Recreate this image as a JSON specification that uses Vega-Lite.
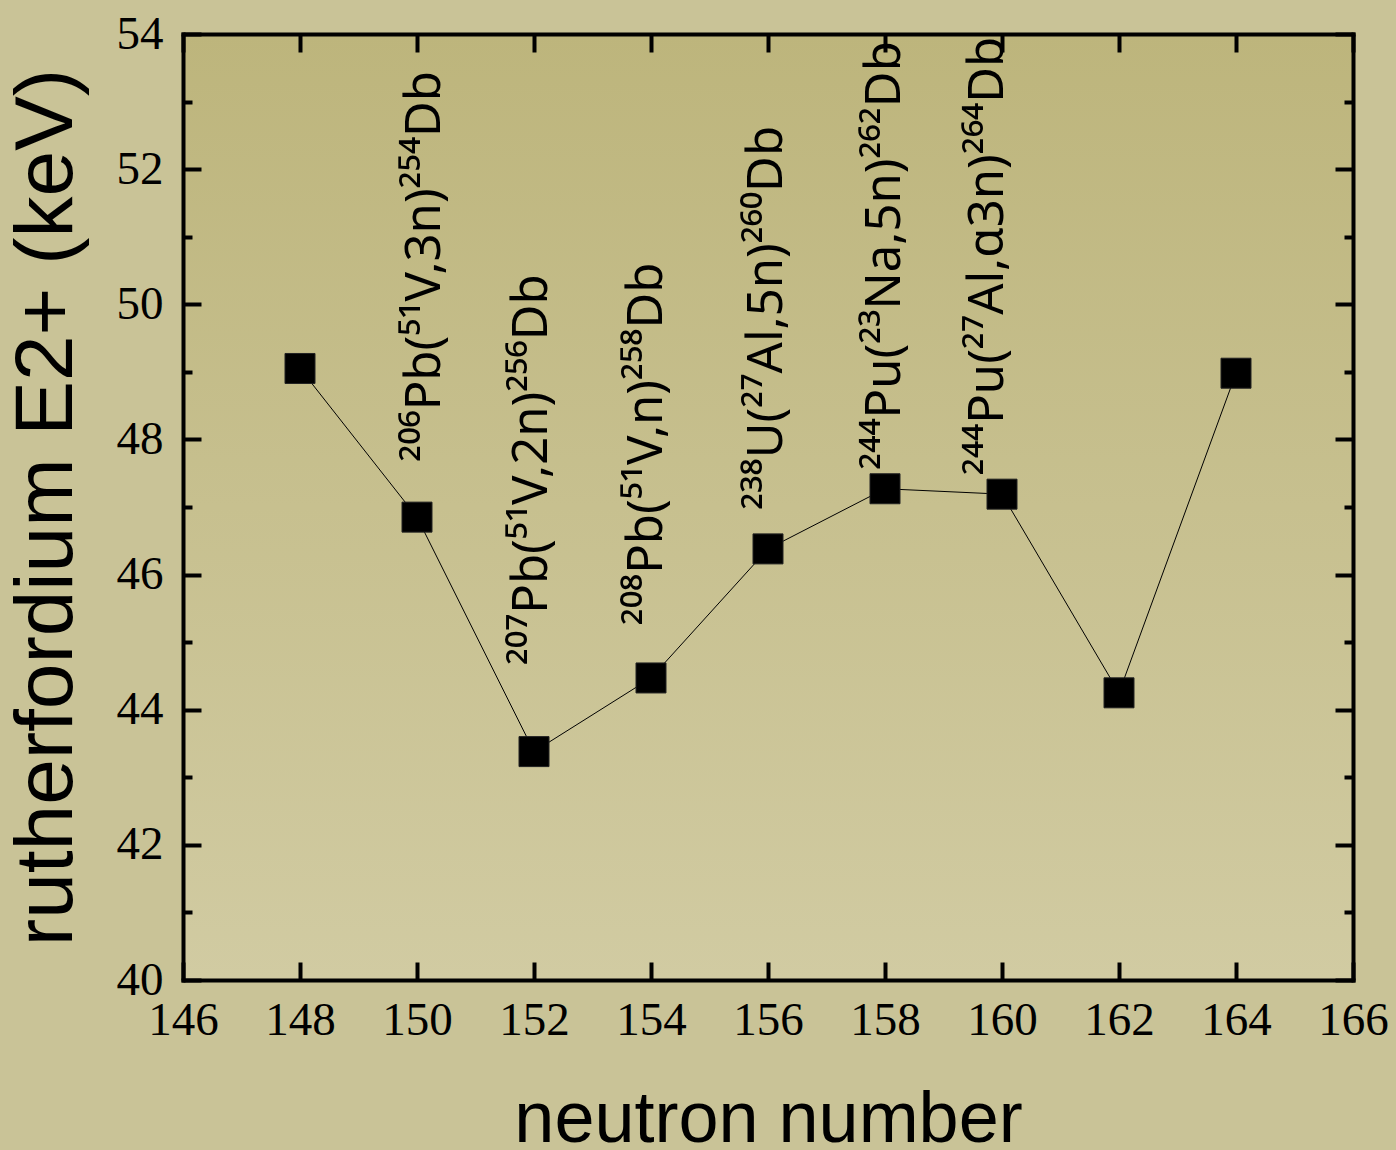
{
  "$schema": "https://vega.github.io/schema/vega-lite/v6.json",
  "width": 1170,
  "height": 946,
  "autosize": {"type": "none"},
  "padding": {"left": 183, "top": 34, "right": 43, "bottom": 170},
  "background": "#c9c397",
  "config": {
    "view": {
      "stroke": null,
      "fill": {
        "gradient": "linear",
        "x1": 0, "y1": 0, "x2": 0, "y2": 1,
        "stops": [
          {"offset": 0, "color": "#bdb57c"},
          {"offset": 1, "color": "#d1cba2"}
        ]
      }
    },
    "axis": {
      "domainColor": "black",
      "domainWidth": 4,
      "domainCap": "square",
      "tickColor": "black",
      "tickWidth": 4,
      "tickSize": -18,
      "grid": false,
      "format": "d",
      "labelOverlap": false,
      "labelFlush": false,
      "labelFont": "Liberation Serif",
      "labelFontSize": 47,
      "labelColor": "black",
      "titleFont": "Liberation Sans",
      "titleFontWeight": "normal",
      "titleColor": "black"
    }
  },
  "datasets": {
    "points": [
      {"N": 148, "E": 49.05},
      {"N": 150, "E": 46.85},
      {"N": 152, "E": 43.38},
      {"N": 154, "E": 44.47},
      {"N": 156, "E": 46.38},
      {"N": 158, "E": 47.27},
      {"N": 160, "E": 47.19},
      {"N": 162, "E": 44.25},
      {"N": 164, "E": 48.98}
    ],
    "labels": [
      {"lx": 150.39, "ly": 47.67, "label": "²⁰⁶Pb(⁵¹V,3n)²⁵⁴Db"},
      {"lx": 152.22, "ly": 44.66, "label": "²⁰⁷Pb(⁵¹V,2n)²⁵⁶Db"},
      {"lx": 154.19, "ly": 45.25, "label": "²⁰⁸Pb(⁵¹V,n)²⁵⁸Db"},
      {"lx": 156.24, "ly": 46.96, "label": "²³⁸U(²⁷Al,5n)²⁶⁰Db"},
      {"lx": 158.26, "ly": 47.55, "label": "²⁴⁴Pu(²³Na,5n)²⁶²Db"},
      {"lx": 160.02, "ly": 47.47, "label": "²⁴⁴Pu(²⁷Al,α3n)²⁶⁴Db"}
    ]
  },
  "layer": [
    {
      "layer": [
        {
          "data": {"name": "points"},
          "mark": {"type": "line", "color": "black", "strokeWidth": 1},
          "encoding": {
            "x": {
              "field": "N", "type": "quantitative",
              "scale": {"domain": [146, 166], "nice": false, "zero": false},
              "axis": {
                "orient": "bottom",
                "values": [146, 148, 150, 152, 154, 156, 158, 160, 162, 164, 166],
                "labelPadding": 35,
                "title": "neutron number",
                "titleFontSize": 72,
                "titlePadding": 41
              }
            },
            "y": {
              "field": "E", "type": "quantitative",
              "scale": {"domain": [40, 54], "nice": false, "zero": false},
              "axis": {
                "orient": "left",
                "values": [40, 41, 42, 43, 44, 45, 46, 47, 48, 49, 50, 51, 52, 53, 54],
                "labelExpr": "datum.value % 2 == 0 ? datum.label : ''",
                "tickDash": {"condition": {"test": "datum.value % 2 != 0", "value": [9, 60]}, "value": []},
                "labelPadding": 38,
                "title": "rutherfordium E2+ (keV)",
                "titleFontSize": 82,
                "titlePadding": 28
              }
            }
          }
        },
        {
          "data": {"name": "points"},
          "mark": {"type": "square", "size": 900, "filled": true, "color": "black", "opacity": 1, "stroke": "#222222", "strokeWidth": 1},
          "encoding": {
            "x": {"field": "N", "type": "quantitative"},
            "y": {"field": "E", "type": "quantitative"}
          }
        },
        {
          "data": {"name": "labels"},
          "mark": {"type": "text", "angle": 270, "align": "left", "baseline": "alphabetic", "font": "Noto Sans", "fontSize": 49, "color": "black"},
          "encoding": {
            "x": {"field": "lx", "type": "quantitative"},
            "y": {"field": "ly", "type": "quantitative"},
            "text": {"field": "label"}
          }
        }
      ]
    },
    {
      "data": {"name": "points"},
      "mark": {"type": "square", "size": 900, "opacity": 0},
      "encoding": {
        "x": {
          "field": "N", "type": "quantitative",
          "axis": {
            "orient": "top",
            "values": [146, 148, 150, 152, 154, 156, 158, 160, 162, 164, 166],
            "labels": false,
            "title": null
          }
        },
        "y": {
          "field": "E", "type": "quantitative",
          "axis": {
            "orient": "right",
            "values": [40, 41, 42, 43, 44, 45, 46, 47, 48, 49, 50, 51, 52, 53, 54],
            "labels": false,
            "tickDash": {"condition": {"test": "datum.value % 2 != 0", "value": [9, 60]}, "value": []},
            "title": null
          }
        }
      }
    }
  ],
  "resolve": {"axis": {"x": "independent", "y": "independent"}}
}
